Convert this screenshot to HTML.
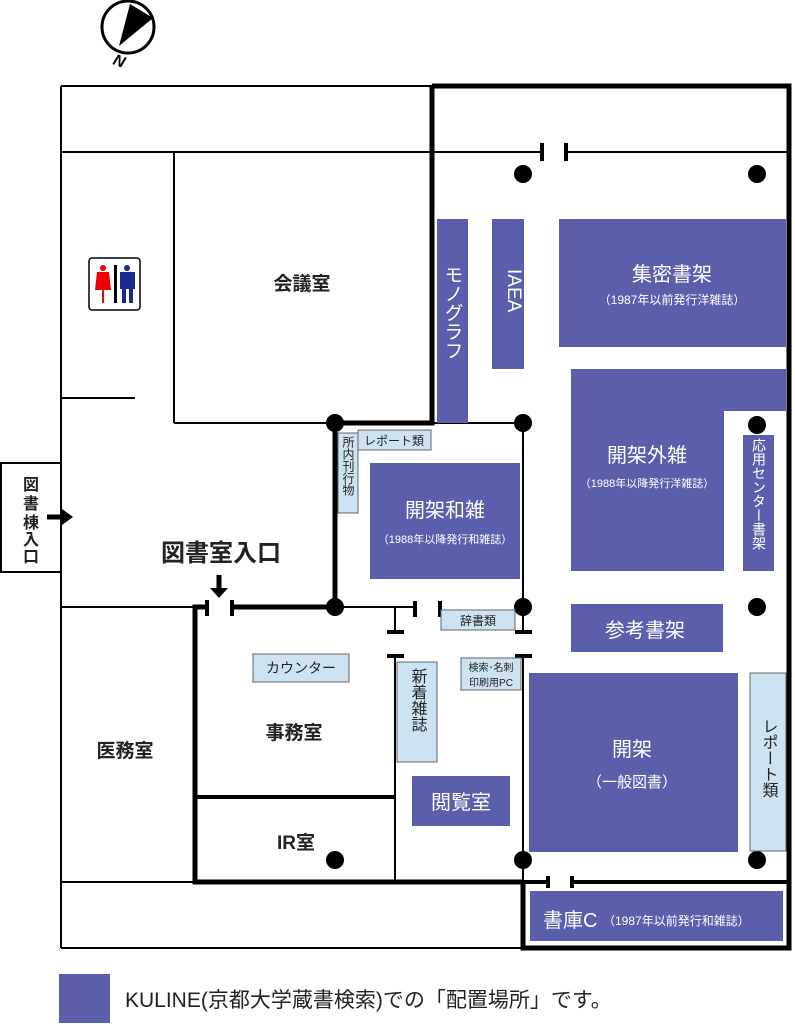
<!DOCTYPE html>
<html><head><meta charset="utf-8"><style>
html,body{margin:0;padding:0;background:#fff}
svg{display:block}
text{font-family:"Liberation Sans","Noto Sans CJK JP",sans-serif}
</style></head><body>
<svg width="795" height="1024" viewBox="0 0 795 1024" xmlns="http://www.w3.org/2000/svg">
<!-- compass -->
<circle cx="128" cy="27" r="26" fill="none" stroke="#000" stroke-width="3"/>
<polygon points="130,4 153,18 119,46" fill="#000"/>
<text x="112" y="64" font-size="16" font-style="italic" font-weight="bold" transform="rotate(20 112 64)">N</text>

<g stroke="#000" fill="none">
<g stroke-width="2">
<line x1="61" y1="86" x2="432" y2="86"/>
<line x1="61" y1="86" x2="61" y2="948"/>
<line x1="61" y1="948" x2="523" y2="948"/>
<line x1="61" y1="152" x2="542" y2="152"/>
<line x1="566" y1="152" x2="789" y2="152"/>
<line x1="174" y1="152" x2="174" y2="423"/>
<line x1="174" y1="423" x2="335" y2="423"/>
<line x1="61" y1="398" x2="135" y2="398"/>
<line x1="61" y1="607" x2="207" y2="607"/>
<line x1="61" y1="882" x2="195" y2="882"/>
<line x1="335" y1="423" x2="523" y2="423"/>
<line x1="335" y1="607" x2="415" y2="607"/>
<line x1="523" y1="423" x2="523" y2="632"/>
<line x1="523" y1="656" x2="523" y2="882"/>
<line x1="395" y1="607" x2="395" y2="632"/>
<line x1="395" y1="656" x2="395" y2="882"/>
</g>
<g stroke-width="4">
<line x1="542" y1="143" x2="542" y2="161"/>
<line x1="566" y1="143" x2="566" y2="161"/>
<line x1="415" y1="601" x2="415" y2="617"/>
<line x1="440" y1="601" x2="440" y2="617"/>
<line x1="387" y1="632" x2="404" y2="632"/>
<line x1="387" y1="656" x2="404" y2="656"/>
<line x1="515" y1="632" x2="532" y2="632"/>
<line x1="515" y1="656" x2="532" y2="656"/>
<line x1="207" y1="600" x2="207" y2="616"/>
<line x1="232" y1="600" x2="232" y2="616"/>
<line x1="548" y1="876" x2="548" y2="888"/>
<line x1="572" y1="876" x2="572" y2="888"/>
<line x1="523" y1="882" x2="548" y2="882"/>
<line x1="572" y1="882" x2="789" y2="882"/>
<line x1="195" y1="797" x2="395" y2="797"/>
</g>
<g stroke-width="5">
<polyline points="432,86 789,86 789,948 523,948 523,882"/>
<polyline points="432,86 432,423 335,423 335,607 232,607"/>
<polyline points="207,607 195,607 195,882 523,882"/>
</g>
</g>

<g fill="#000">
<circle cx="523" cy="174" r="9"/><circle cx="757" cy="174" r="9"/>
<circle cx="335" cy="423" r="9"/><circle cx="523" cy="423" r="9"/>
<circle cx="757" cy="425" r="9"/>
<circle cx="335" cy="607" r="9"/><circle cx="523" cy="607" r="9"/><circle cx="757" cy="607" r="9"/>
<circle cx="335" cy="860" r="9"/><circle cx="523" cy="860" r="9"/><circle cx="757" cy="860" r="9"/>
</g>

<g fill="#5b5fab">
<rect x="437" y="219" width="31" height="204"/>
<rect x="492" y="219" width="32" height="150"/>
<rect x="559" y="219" width="227" height="128"/>
<polygon points="571,369 786,369 786,411 724,411 724,571 571,571"/>
<rect x="743" y="435" width="31" height="136"/>
<rect x="370" y="463" width="150" height="116"/>
<rect x="571" y="604" width="152" height="48"/>
<rect x="529" y="673" width="209" height="179"/>
<rect x="412" y="776" width="98" height="50"/>
<rect x="530" y="891" width="253" height="50"/>
<rect x="59" y="974" width="51" height="49"/>
</g>
<g fill="#cde3f2" stroke="#666" stroke-width="1">
<rect x="358" y="430" width="73" height="20"/>
<rect x="338" y="433" width="20" height="80"/>
<rect x="441" y="610" width="74" height="20"/>
<rect x="253" y="654" width="96" height="28"/>
<rect x="397" y="662" width="40" height="100"/>
<rect x="461" y="658" width="60" height="32"/>
<rect x="750" y="673" width="36" height="178"/>
</g>

<rect x="1" y="463" width="60" height="109" fill="#fff" stroke="#000" stroke-width="2"/>
<rect x="89" y="258" width="51" height="52" rx="3" fill="#fff" stroke="#000" stroke-width="1.5"/>
<g fill="#e00"><circle cx="103" cy="268" r="3"/><polygon points="97,272 109,272 111,290 104,290 104,303 102,303 102,290 95,290"/></g>
<rect x="114" y="265" width="3" height="38" fill="#000"/>
<g fill="#1a2a90"><circle cx="127" cy="268" r="3"/><rect x="120" y="272" width="15" height="17"/><rect x="122" y="288" width="4" height="15"/><rect x="129" y="288" width="4" height="15"/></g>

<path d="M47,517 H66" stroke="#000" stroke-width="5"/>
<polygon points="62,509 73,517 62,525" fill="#000"/>
<path d="M219,575 V592" stroke="#000" stroke-width="5"/>
<polygon points="210,588 228,588 219,598" fill="#000"/>

<g fill="#222" font-weight="bold">
<text x="302" y="290" font-size="19" text-anchor="middle">会議室</text>
<text x="125" y="757" font-size="19" text-anchor="middle">医務室</text>
<text x="294" y="739" font-size="19" text-anchor="middle">事務室</text>
<text x="296" y="849" font-size="19" text-anchor="middle">IR室</text>
<text x="221" y="561" font-size="24" text-anchor="middle">図書室入口</text>
<g font-size="16" text-anchor="middle">
<text x="31" y="490">図</text><text x="31" y="509">書</text><text x="31" y="528">棟</text><text x="31" y="545">入</text><text x="31" y="562">口</text>
</g>
</g>

<g fill="#fff" text-anchor="middle">
<text x="672" y="281" font-size="20">集密書架</text>
<text x="672" y="304" font-size="12">（1987年以前発行洋雑誌）</text>
<text x="647" y="462" font-size="20">開架外雑</text>
<text x="647" y="487" font-size="11">（1988年以降発行洋雑誌）</text>
<text x="445" y="517" font-size="20">開架和雑</text>
<text x="445" y="543" font-size="11">（1988年以降発行和雑誌）</text>
<text x="645" y="637" font-size="20">参考書架</text>
<text x="632" y="756" font-size="20">開架</text>
<text x="632" y="787" font-size="15">（一般図書）</text>
<text x="461" y="809" font-size="20">閲覧室</text>
<text x="543" y="927" font-size="20" text-anchor="start">書庫C</text>
<text x="603" y="925" font-size="12" text-anchor="start">（1987年以前発行和雑誌）</text>
<text x="452" y="265" font-size="19" style="writing-mode:vertical-rl" text-anchor="start">モノグラフ</text>
<text x="508" y="269" font-size="19" transform="rotate(90 508 269)" text-anchor="start">IAEA</text>
<text x="759" y="438" font-size="14" style="writing-mode:vertical-rl" text-anchor="start">応用センター書架</text>
</g>
<g fill="#222">
<text x="394" y="445" font-size="12" text-anchor="middle">レポート類</text>
<text x="348" y="436" font-size="12" style="writing-mode:vertical-rl" text-anchor="start">所内刊行物</text>
<text x="478" y="625" font-size="12" text-anchor="middle">辞書類</text>
<text x="301" y="673" font-size="14" text-anchor="middle">カウンター</text>
<text x="417" y="668" font-size="16" style="writing-mode:vertical-rl" text-anchor="start">新着雑誌</text>
<text x="491" y="671" font-size="10" text-anchor="middle">検索･名刺</text>
<text x="491" y="686" font-size="10" text-anchor="middle">印刷用PC</text>
<text x="768" y="718" font-size="16" style="writing-mode:vertical-rl" text-anchor="start">レポート類</text>
<text x="125" y="1007" font-size="21">KULINE(京都大学蔵書検索)での「配置場所」です。</text>
</g>
</svg>
</body></html>
